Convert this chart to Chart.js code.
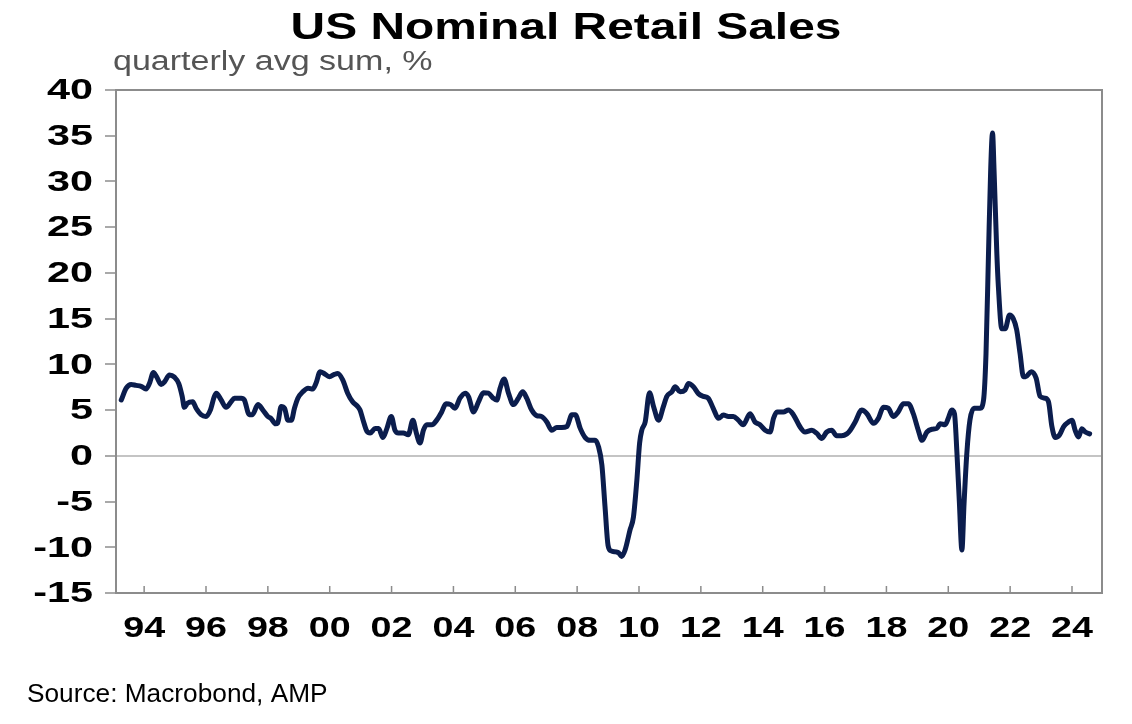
<!DOCTYPE html>
<html>
<head>
<meta charset="utf-8">
<title>US Nominal Retail Sales</title>
<script src="https://cdn.jsdelivr.net/npm/chart.js@4.4.1/dist/chart.umd.min.js"></script>
<style>
  html, body { margin: 0; padding: 0; background: #ffffff; }
  #caja { width: 1132px; height: 724px; position: relative; }
</style>
</head>
<body>
<div id="caja"><canvas id="grafVentas"></canvas></div>
<script>
// Fechas (año decimal) y valores
let fechas = [
  1993.26, 1993.42, 1993.58, 1993.74, 1993.90, 1994.06, 1994.17, 1994.30, 1994.40, 1994.55,
  1994.66, 1994.82, 1994.98, 1995.12, 1995.23, 1995.30, 1995.40, 1995.57, 1995.68, 1995.84,
  1996.00, 1996.14, 1996.27, 1996.33, 1996.49, 1996.65, 1996.81, 1996.92, 1997.14, 1997.24,
  1997.40, 1997.50, 1997.68, 1997.84, 1998.00, 1998.10, 1998.25, 1998.32, 1998.43, 1998.54,
  1998.65, 1998.76, 1998.86, 1998.97, 1999.13, 1999.30, 1999.45, 1999.56, 1999.69, 1999.82,
  1999.99, 2000.15, 2000.26, 2000.42, 2000.58, 2000.74, 2000.90, 2000.98, 2001.08, 2001.20,
  2001.31, 2001.47, 2001.58, 2001.72, 2001.85, 2001.99, 2002.11, 2002.22, 2002.38, 2002.54,
  2002.69, 2002.80, 2002.92, 2003.03, 2003.14, 2003.30, 2003.46, 2003.62, 2003.76, 2003.91,
  2004.05, 2004.21, 2004.38, 2004.49, 2004.65, 2004.81, 2004.97, 2005.13, 2005.29, 2005.40,
  2005.51, 2005.64, 2005.78, 2005.94, 2006.10, 2006.24, 2006.37, 2006.53, 2006.69, 2006.85,
  2007.02, 2007.18, 2007.34, 2007.50, 2007.67, 2007.83, 2007.94, 2008.10, 2008.26, 2008.42,
  2008.58, 2008.69, 2008.80, 2008.90, 2009.00, 2009.10, 2009.25, 2009.34, 2009.44, 2009.55,
  2009.71, 2009.82, 2009.93, 2010.02, 2010.09, 2010.20, 2010.34, 2010.47, 2010.63, 2010.79,
  2010.90, 2011.06, 2011.17, 2011.33, 2011.49, 2011.60, 2011.76, 2011.92, 2012.08, 2012.24,
  2012.40, 2012.57, 2012.73, 2012.89, 2013.05, 2013.21, 2013.37, 2013.59, 2013.75, 2013.91,
  2014.08, 2014.24, 2014.35, 2014.46, 2014.67, 2014.83, 2014.99, 2015.20, 2015.37, 2015.59,
  2015.75, 2015.91, 2016.07, 2016.23, 2016.39, 2016.55, 2016.72, 2016.83, 2016.99, 2017.20,
  2017.37, 2017.58, 2017.74, 2017.90, 2018.06, 2018.22, 2018.38, 2018.55, 2018.71, 2018.87,
  2019.03, 2019.15, 2019.31, 2019.47, 2019.63, 2019.74, 2019.90, 2020.00, 2020.11, 2020.20,
  2020.28, 2020.36, 2020.44, 2020.51, 2020.60, 2020.70, 2020.83, 2021.03, 2021.14, 2021.22,
  2021.30, 2021.37, 2021.43, 2021.48, 2021.57, 2021.62, 2021.73, 2021.84, 2021.98, 2022.10,
  2022.21, 2022.32, 2022.43, 2022.50, 2022.68, 2022.84, 2022.97, 2023.13, 2023.24, 2023.35,
  2023.46, 2023.60, 2023.73, 2023.89, 2024.00, 2024.10, 2024.21, 2024.32, 2024.43, 2024.57
];

let ventas = [
  6.1, 7.4, 7.8, 7.7, 7.6, 7.3, 7.9, 9.1, 8.65, 7.8,
  8.1, 8.85, 8.6, 7.9, 6.5, 5.3, 5.75, 5.9, 5.2, 4.5,
  4.3, 5.0, 6.5, 6.85, 6.1, 5.3, 5.9, 6.3, 6.3, 6.1,
  4.5, 4.5, 5.6, 5.0, 4.3, 4.1, 3.5, 3.6, 5.4, 5.2,
  3.9, 3.9, 5.2, 6.3, 7.0, 7.4, 7.3, 7.95, 9.2, 9.0,
  8.65, 8.9, 9.0, 8.3, 6.85, 5.9, 5.4, 5.0, 3.9, 2.7,
  2.5, 3.0, 3.0, 2.0, 3.0, 4.3, 2.8, 2.5, 2.5, 2.3,
  3.9, 2.5, 1.4, 2.8, 3.4, 3.4, 3.9, 4.8, 5.7, 5.6,
  5.2, 6.3, 6.85, 6.45, 4.8, 5.9, 6.9, 6.85, 6.3, 6.1,
  7.4, 8.4, 6.85, 5.6, 6.3, 7.0, 6.3, 5.0, 4.4, 4.3,
  3.7, 2.8, 3.1, 3.1, 3.2, 4.5, 4.5, 3.0, 2.0, 1.7,
  1.7, 1.0, -1.0, -5.5, -9.8, -10.4, -10.5, -10.6, -11.0, -10.3,
  -8.1, -6.7, -2.7, 1.4, 2.8, 3.7, 6.9, 5.4, 3.9, 5.4,
  6.5, 7.0, 7.55, 7.0, 7.2, 7.9, 7.55, 6.8, 6.5, 6.3,
  5.2, 4.1, 4.45, 4.3, 4.3, 3.9, 3.4, 4.6, 3.7, 3.4,
  2.8, 2.6, 4.1, 4.8, 4.8, 5.0, 4.5, 3.2, 2.6, 2.8,
  2.45, 1.9, 2.6, 2.8, 2.2, 2.2, 2.4, 2.8, 3.7, 5.0,
  4.6, 3.55, 4.1, 5.3, 5.2, 4.3, 4.8, 5.7, 5.7, 4.6,
  2.8, 1.7, 2.6, 2.9, 3.0, 3.5, 3.4, 4.1, 5.0, 4.6,
  0.3, -5.2, -10.3, -5.2, 0.3, 3.9, 5.2, 5.2, 6.1, 11.2,
  22.1, 31.2, 35.3, 31.2, 22.1, 18.5, 13.9, 13.9, 15.4, 15.0,
  13.8, 11.2, 8.65, 8.65, 9.2, 8.5, 6.5, 6.3, 5.9, 3.2,
  2.0, 2.3, 3.2, 3.7, 3.9, 2.8, 2.05, 2.95, 2.6, 2.4
];

// Marcas del eje X (años) y limites del eje Y
let aniosEje = [1994, 1996, 1998, 2000, 2002, 2004, 2006, 2008, 2010, 2012, 2014, 2016, 2018, 2020, 2022, 2024];
let yMin = -15;
let yMax = 40;
let yPaso = 5;

let puntos = fechas.map(function (f, i) { return { x: f, y: ventas[i] }; });

let colorLinea = '#0b1d4d';
let colorEje = '#8c8c8c';
let fuente = '"Liberation Sans", Arial, sans-serif';

// Texto estirado a lo ancho, como en la imagen original
function texto(ctx, str, x, y, font, color, align, base, sx) {
  ctx.save();
  ctx.translate(x, y);
  ctx.scale(sx, 1);
  ctx.font = font;
  ctx.fillStyle = color;
  ctx.textAlign = align;
  ctx.textBaseline = base;
  ctx.fillText(str, 0, 0);
  ctx.restore();
}

// Marco, marcas del eje X, etiquetas y titulos
const decoracion = {
  id: 'decoracion',
  afterDraw(chart) {
    let ctx = chart.ctx;
    let area = chart.chartArea;
    let ejeX = chart.scales.x;
    let ejeY = chart.scales.y;

    ctx.save();
    ctx.strokeStyle = colorEje;
    ctx.lineWidth = 2;
    ctx.beginPath();
    ctx.moveTo(area.left, area.top);
    ctx.lineTo(area.right, area.top);
    ctx.lineTo(area.right, area.bottom);
    ctx.stroke();

    ctx.lineWidth = 1.5;
    ctx.beginPath();
    ejeX.ticks.forEach(function (t) {
      let px = ejeX.getPixelForValue(t.value);
      ctx.moveTo(px, area.bottom);
      ctx.lineTo(px, area.bottom - 7);
    });
    ctx.stroke();
    ctx.restore();

    ejeX.ticks.forEach(function (t) {
      let px = ejeX.getPixelForValue(t.value);
      let etiqueta = String(t.value % 100).padStart(2, '0');
      texto(ctx, etiqueta, px, 637, 'bold 29px ' + fuente, '#000000', 'center', 'alphabetic', 1.3);
    });

    ejeY.ticks.forEach(function (t) {
      let py = ejeY.getPixelForValue(t.value);
      texto(ctx, String(t.value), 93, py + 1, 'bold 30px ' + fuente, '#000000', 'right', 'middle', 1.38);
    });

    texto(ctx, 'US Nominal Retail Sales', 566, 39, 'bold 36px ' + fuente, '#000000', 'center', 'alphabetic', 1.33);
    texto(ctx, 'quarterly avg sum, %', 113, 70, '27px ' + fuente, '#555555', 'left', 'alphabetic', 1.26);
    texto(ctx, 'Source: Macrobond, AMP', 27, 702, '25px ' + fuente, '#000000', 'left', 'alphabetic', 1.05);
  }
};

let graf = document.getElementById('grafVentas').getContext('2d');
let grafVentas = new Chart(graf, {
  type: 'line',
  data: {
    datasets: [{
      label: 'Retail sales',
      data: puntos,
      borderColor: colorLinea,
      borderWidth: 5,
      pointRadius: 0,
      cubicInterpolationMode: 'monotone',
      borderJoinStyle: 'round',
      borderCapStyle: 'round',
      fill: false
    }]
  },
  options: {
    responsive: true,
    maintainAspectRatio: false,
    animation: false,
    layout: {
      padding: { top: 90, right: 30, bottom: 0, left: 0 }
    },
    scales: {
      x: {
        type: 'linear',
        min: 1993.09,
        max: 2024.97,
        afterBuildTicks: function (scale) {
          scale.ticks = aniosEje.map(function (a) { return { value: a }; });
        },
        afterFit: function (scale) { scale.height = 131; },
        ticks: { display: false },
        grid: { display: false },
        border: { display: true, color: colorEje, width: 2 }
      },
      y: {
        min: yMin,
        max: yMax,
        ticks: { display: false, stepSize: yPaso },
        afterFit: function (scale) { scale.width = 116; },
        grid: {
          drawOnChartArea: true,
          color: function (c) { return c.tick && c.tick.value === 0 ? '#c4c4c4' : 'rgba(0,0,0,0)'; },
          lineWidth: 2,
          drawTicks: true,
          tickLength: 11,
          tickColor: colorEje,
          tickWidth: 1.5
        },
        border: { display: true, color: colorEje, width: 2 }
      }
    },
    plugins: {
      legend: { display: false },
      tooltip: { enabled: false }
    }
  },
  plugins: [decoracion]
});
</script>
</body>
</html>
